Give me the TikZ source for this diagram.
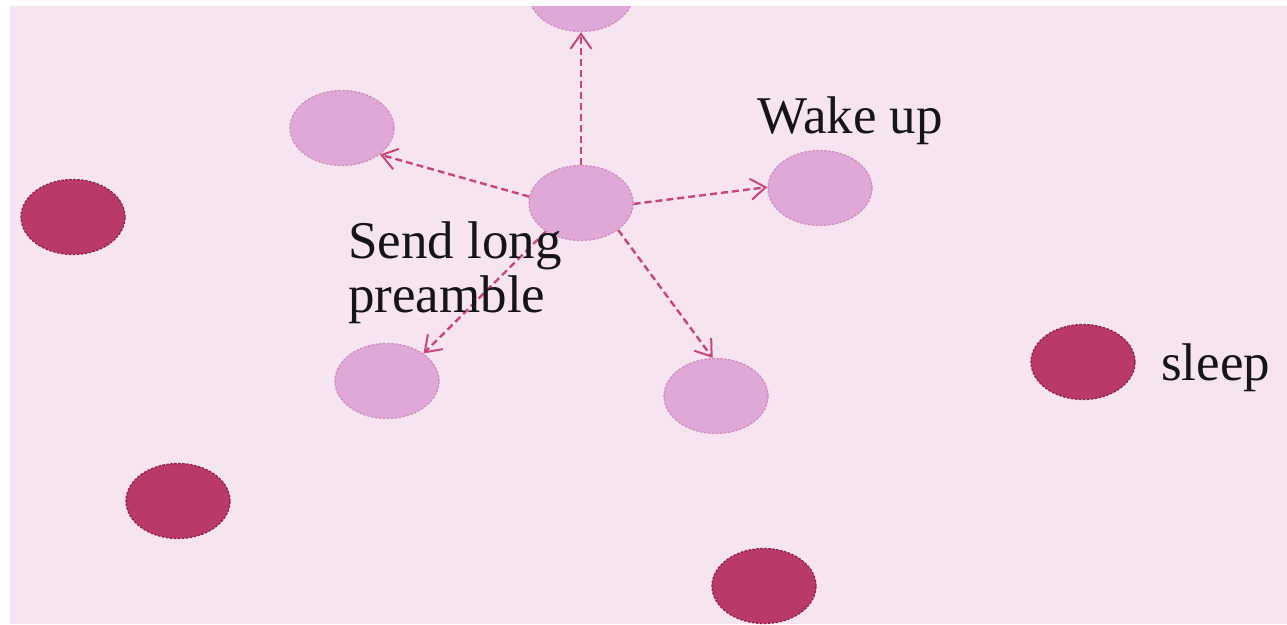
\documentclass[tikz,border=0pt]{standalone}
\usepackage{fontspec}
\setmainfont{Liberation Serif}
\usetikzlibrary{shapes.geometric,arrows.meta}
\definecolor{bg}{HTML}{F6E5F0}
\definecolor{lightfill}{HTML}{E0A8D6}
\definecolor{lightline}{HTML}{CF8EC3}
\definecolor{darkfill}{HTML}{B93968}
\definecolor{darkline}{HTML}{8E2349}
\definecolor{arrcol}{HTML}{C9457A}
\definecolor{txt}{HTML}{151515}
\tikzset{
  blob/.style={ellipse, minimum width=104pt, minimum height=75pt, inner sep=0pt, line width=1.3pt, dash pattern=on 2.5pt off 1.5pt},
  lightblob/.style={blob, fill=lightfill, draw=lightline},
  darkblob/.style={blob, fill=darkfill, draw=darkline},
  arr/.style={draw=arrcol, line width=2.4pt, dash pattern=on 7pt off 4pt, -{Straight Barb[length=15pt,width=21pt,line width=2pt]}},
  lbl/.style={anchor=base west, inner sep=0pt, text=txt, font=\fontsize{53}{54}\selectfont}
}
\begin{document}
\begin{tikzpicture}[x=1pt,y=-1pt]
\useasboundingbox (0,0) rectangle (1287,624);
\fill[white] (0,0) rectangle (1287,624);
\fill[bg] (10,6) rectangle (1287,624);
\begin{scope}
\clip (10,6) rectangle (1287,624);
\node[lightblob] (c)  at (581,203) {};
\node[lightblob] (t)  at (581,-6) {};
\node[lightblob] (ul) at (342,128) {};
\node[lightblob] (r)  at (820,188) {};
\node[lightblob] (ll) at (387,381) {};
\node[lightblob] (lr) at (716,396) {};
\node[darkblob] (d1) at (73,217) {};
\node[darkblob] (d2) at (1083,362) {};
\node[darkblob] (d3) at (178,501) {};
\node[darkblob] (d4) at (764,586) {};
\draw[arr] (c.90) -- (t.-90);
\draw[arr] (c.173) -- (ul.-35);
\draw[arr] (c.-1) -- (r.179);
\draw[arr] (c.-141) -- (ll.37);
\draw[arr] (c.-36) -- (lr.95);
\end{scope}
\node[lbl] (wake) at (757,133) {Wake up};
\node[lbl] (send1) at (348,258) {Send long};
\node[lbl] (send2) at (348,312) {preamble};
\node[lbl] (sleep) at (1161,380) {sleep};
\end{tikzpicture}
\end{document}
